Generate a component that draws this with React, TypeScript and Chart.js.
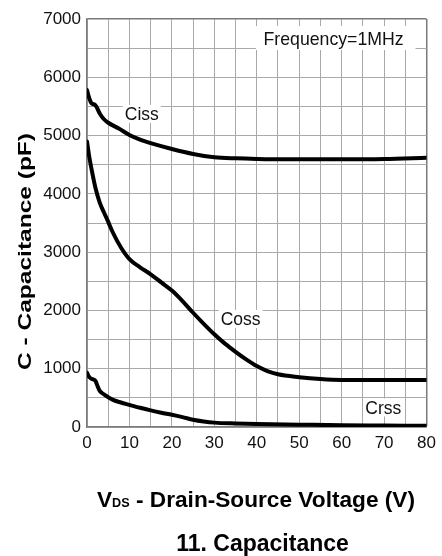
import React, { useEffect, useRef } from "react";
import { Chart, registerables } from "chart.js";

Chart.register(...registerables);

// ---- Data ----
const cissVoltage = [0, 0.5, 1, 2, 3, 4, 5, 7.5, 10, 12.5, 15, 20, 25, 30, 35, 40, 50, 60, 70, 80];
const cissValues = [5780, 5650, 5560, 5520, 5380, 5280, 5220, 5120, 5010, 4930, 4870, 4770, 4685, 4630, 4610, 4600, 4595, 4595, 4600, 4620];

const cossVoltage = [0, 0.5, 1, 2, 3, 4, 5, 6, 8, 10, 12.5, 15, 17.5, 20, 22.5, 25, 27.5, 30, 32.5, 35, 37.5, 40, 42.5, 45, 50, 55, 60, 70, 80];
const cossValues = [4900, 4650, 4450, 4100, 3850, 3680, 3520, 3350, 3080, 2880, 2740, 2620, 2480, 2340, 2160, 1960, 1770, 1590, 1430, 1290, 1160, 1045, 960, 905, 855, 822, 806, 805, 805];

const crssVoltage = [0, 0.5, 1, 2, 2.5, 3, 4, 6, 8, 10, 12.5, 15, 17.5, 20, 22.5, 25, 27.5, 30, 35, 40, 50, 60, 70, 80];
const crssValues = [930, 860, 830, 790, 700, 620, 560, 470, 420, 380, 330, 285, 245, 210, 170, 125, 95, 75, 60, 50, 40, 30, 25, 20];

const seriesNames = ["Ciss", "Coss", "Crss"];
const xTickLabels = ["0", "10", "20", "30", "40", "50", "60", "70", "80"];
const yTickLabels = ["0", "1000", "2000", "3000", "4000", "5000", "6000", "7000"];

const yAxisTitle = "C - Capacitance (pF)";
const xAxisTitleMain = "V";
const xAxisTitleSub = "DS";
const xAxisTitleRest = " - Drain-Source Voltage (V)";
const chartTitle = "11. Capacitance";
const noteText = "Frequency=1MHz";

const FONT = '"Liberation Sans", Arial, Helvetica, sans-serif';

const toPoints = (xs: number[], ys: number[]) => xs.map((x, i) => ({ x, y: ys[i] }));

const textPlugin = {
  id: "textPlugin",
  afterDatasetsDraw(chart: any) {
    const { ctx, scales } = chart;
    const xs = scales.x;
    const ys = scales.y;
    ctx.save();

    // Frequency note with white box
    const bx1 = xs.getPixelForValue(39.8);
    const bx2 = xs.getPixelForValue(77.4);
    const by1 = ys.getPixelForValue(6880);
    const by2 = ys.getPixelForValue(6468);
    ctx.fillStyle = "#ffffff";
    ctx.fillRect(bx1, by1, bx2 - bx1, by2 - by1);
    ctx.fillStyle = "#111111";
    ctx.font = `17.7px ${FONT}`;
    ctx.textAlign = "center";
    ctx.textBaseline = "alphabetic";
    ctx.fillText(noteText, xs.getPixelForValue(58.1), ys.getPixelForValue(6668) + 6.3);

    // Curve labels
    const labelPos = [
      [12.9, 5373],
      [36.2, 1853],
      [69.8, 335],
    ];
    ctx.font = `17.5px ${FONT}`;
    seriesNames.forEach((name, i) => {
      const px = xs.getPixelForValue(labelPos[i][0]);
      const py = ys.getPixelForValue(labelPos[i][1]);
      const w = ctx.measureText(name).width;
      ctx.fillStyle = "#ffffff";
      ctx.fillRect(px - w / 2 - 2, py - 9, w + 4, 18);
      ctx.fillStyle = "#111111";
      ctx.fillText(name, px, py + 6.2);
    });

    // Y axis title (rotated, stretched to reference length)
    ctx.font = `bold 19px ${FONT}`;
    const yw = ctx.measureText(yAxisTitle).width;
    ctx.save();
    ctx.translate(30.5, 251.5);
    ctx.rotate(-Math.PI / 2);
    ctx.scale(237 / yw, 1);
    ctx.fillStyle = "#000000";
    ctx.textAlign = "center";
    ctx.fillText(yAxisTitle, 0, 0);
    ctx.restore();

    // X axis title with subscript
    ctx.fillStyle = "#000000";
    ctx.textAlign = "left";
    const mainFont = `bold 21.5px ${FONT}`;
    const subFont = `bold 12px ${FONT}`;
    ctx.font = mainFont;
    const w1 = ctx.measureText(xAxisTitleMain).width;
    const w3 = ctx.measureText(xAxisTitleRest).width;
    ctx.font = subFont;
    const w2 = ctx.measureText(xAxisTitleSub).width;
    const total = w1 + w2 + w3;
    const sx = 318 / total;
    ctx.save();
    ctx.translate(97, 507);
    ctx.scale(sx, 1);
    ctx.font = mainFont;
    ctx.fillText(xAxisTitleMain, 0, 0);
    ctx.font = subFont;
    ctx.fillText(xAxisTitleSub, w1, 0);
    ctx.font = mainFont;
    ctx.fillText(xAxisTitleRest, w1 + w2, 0);
    ctx.restore();

    // Chart title
    ctx.font = `bold 23px ${FONT}`;
    ctx.textAlign = "center";
    ctx.fillText(chartTitle, 262.5, 550.5);

    ctx.restore();
  },
};

export default function App() {
  const canvasRef = useRef<HTMLCanvasElement | null>(null);

  useEffect(() => {
    if (!canvasRef.current) return;
    const lineStyle = {
      borderColor: "#000000",
      backgroundColor: "#000000",
      borderWidth: 4,
      pointRadius: 0,
      fill: false,
      cubicInterpolationMode: "monotone" as const,
      borderCapStyle: "round" as const,
      borderJoinStyle: "round" as const,
    };
    const chart = new Chart(canvasRef.current, {
      type: "line",
      data: {
        datasets: [
          { label: seriesNames[0], data: toPoints(cissVoltage, cissValues), ...lineStyle },
          { label: seriesNames[1], data: toPoints(cossVoltage, cossValues), ...lineStyle },
          { label: seriesNames[2], data: toPoints(crssVoltage, crssValues), ...lineStyle },
        ],
      },
      options: {
        responsive: false,
        animation: false,
        events: [],
        layout: { padding: { left: 0, right: 11, top: 19, bottom: 0 } },
        plugins: {
          legend: { display: false },
          tooltip: { enabled: false },
          title: { display: false },
        },
        scales: {
          x: {
            type: "linear",
            min: 0,
            max: 80,
            afterFit: (s: any) => {
              s.height = 129;
            },
            ticks: {
              stepSize: 5,
              autoSkip: false,
              maxRotation: 0,
              padding: 6,
              color: "#111111",
              font: { family: FONT, size: 17 },
              callback: (v: any) => {
                const idx = xTickLabels.indexOf(String(v));
                return idx >= 0 ? xTickLabels[idx] : "";
              },
            },
            grid: {
              drawTicks: false,
              color: (c: any) => (c.tick && c.tick.value === 80 ? "#7a7a7a" : "#aaaaaa"),
              lineWidth: (c: any) => (c.tick && c.tick.value === 80 ? 1.5 : 1),
            },
            border: { display: true, color: "#7a7a7a", width: 1.5 },
          },
          y: {
            type: "linear",
            min: 0,
            max: 7000,
            afterFit: (s: any) => {
              s.width = 87;
            },
            ticks: {
              stepSize: 500,
              autoSkip: false,
              padding: 6,
              color: "#111111",
              font: { family: FONT, size: 17 },
              callback: (v: any) => {
                const idx = yTickLabels.indexOf(String(v));
                return idx >= 0 ? yTickLabels[idx] : "";
              },
            },
            grid: {
              drawTicks: false,
              color: (c: any) => (c.tick && c.tick.value === 7000 ? "#7a7a7a" : "#aaaaaa"),
              lineWidth: (c: any) => (c.tick && c.tick.value === 7000 ? 1.5 : 1),
            },
            border: { display: true, color: "#7a7a7a", width: 1.5 },
          },
        },
      },
      plugins: [textPlugin],
    });
    return () => chart.destroy();
  }, []);

  return (
    <div style={{ position: "fixed", left: 0, top: 0, width: 442, height: 556, background: "#ffffff" }}>
      <canvas ref={canvasRef} width={442} height={556} style={{ display: "block" }} />
    </div>
  );
}
